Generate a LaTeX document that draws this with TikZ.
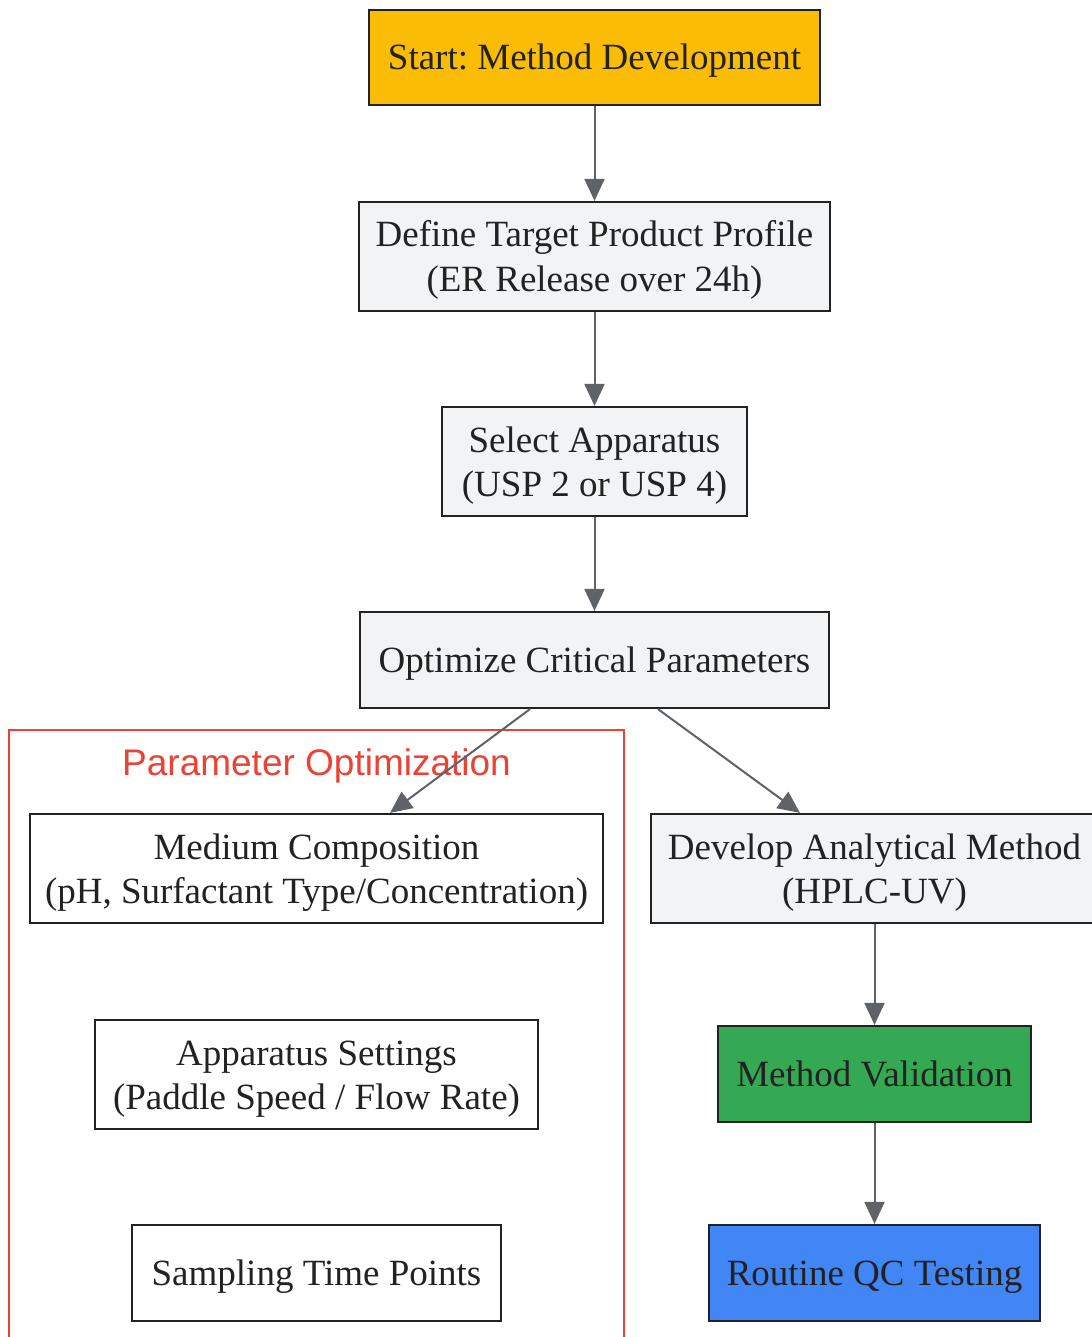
\documentclass[tikz,border=0pt]{standalone}
\usepackage{fontspec}
\setmainfont{Liberation Serif}
\newfontfamily\labelfont{Liberation Sans}
\usetikzlibrary{arrows.meta}
\newcommand{\sx}{\rule[-9.5pt]{0pt}{44pt}}
\definecolor{txt}{HTML}{222222}
\definecolor{edgec}{HTML}{5F6368}
\definecolor{boxgray}{HTML}{F1F3F4}
\definecolor{gyellow}{HTML}{FBBC05}
\definecolor{ggreen}{HTML}{34A853}
\definecolor{gblue}{HTML}{4285F4}
\definecolor{gred}{HTML}{EA4335}
\tikzset{
  base/.style={draw=txt, line width=2.2pt, text=txt, align=center, inner sep=0pt,
    font=\fontsize{37}{44}\selectfont},
  graybox/.style={base, fill=boxgray},
  whitebox/.style={base, fill=white},
  conn/.style={draw=edgec, line width=2pt, -{Triangle[length=22pt,width=20pt]}},
}
\begin{document}
\frenchspacing
\begin{tikzpicture}[x=1pt,y=-1pt]
\useasboundingbox (0,0) rectangle (1091,1337);
\fill[white] (0,0) rectangle (1091,1337);
% cluster
\draw[gred, line width=2pt] (9,730) rectangle (624,1350);
\node[text=gred, font=\labelfont\fontsize{37}{42}\selectfont] (clab) at (316.5,766) {Parameter Optimization};
% nodes
\node[base, fill=gyellow, minimum width=451pt, minimum height=95pt] (start) at (594.5,57.5) {\sx Start: Method Development};
\node[graybox, minimum width=471pt, minimum height=109pt] (target) at (594.5,256.5) {\sx Define Target Product Profile\\\sx(ER Release over 24h)};
\node[graybox, minimum width=305pt, minimum height=109pt] (app) at (594.5,461.5) {\sx Select Apparatus\\\sx(USP 2 or USP 4)};
\node[graybox, minimum width=469pt, minimum height=96pt] (opt) at (594.5,660) {\sx Optimize Critical Parameters};
\node[whitebox, minimum width=573pt, minimum height=109pt] (med) at (316.5,868.5) {\sx Medium Composition\\\sx(pH, Surfactant Type/Concentration)};
\node[whitebox, minimum width=443pt, minimum height=109pt] (set) at (316.5,1074.5) {\sx Apparatus Settings\\\sx(Paddle Speed / Flow Rate)};
\node[whitebox, minimum width=369pt, minimum height=96pt] (samp) at (316.5,1273) {\sx Sampling Time Points};
\node[graybox, minimum width=447pt, minimum height=109pt] (dev) at (874.5,868.5) {\sx Develop Analytical Method\\\sx(HPLC-UV)};
\node[base, fill=ggreen, minimum width=313pt, minimum height=96pt] (val) at (874.5,1074) {\sx Method Validation};
\node[base, fill=gblue, minimum width=331pt, minimum height=96pt] (qc) at (874.5,1273) {\sx Routine QC Testing};
% connectors
\draw[conn] (start.south) -- (target.north);
\draw[conn] (target.south) -- (app.north);
\draw[conn] (app.south) -- (opt.north);
\draw[conn] ([xshift=-64.5pt]opt.south) -- ([xshift=73.5pt]med.north);
\draw[conn] ([xshift=63.5pt]opt.south) -- ([xshift=-74.5pt]dev.north);
\draw[conn] (dev.south) -- (val.north);
\draw[conn] (val.south) -- (qc.north);
\end{tikzpicture}
\end{document}
